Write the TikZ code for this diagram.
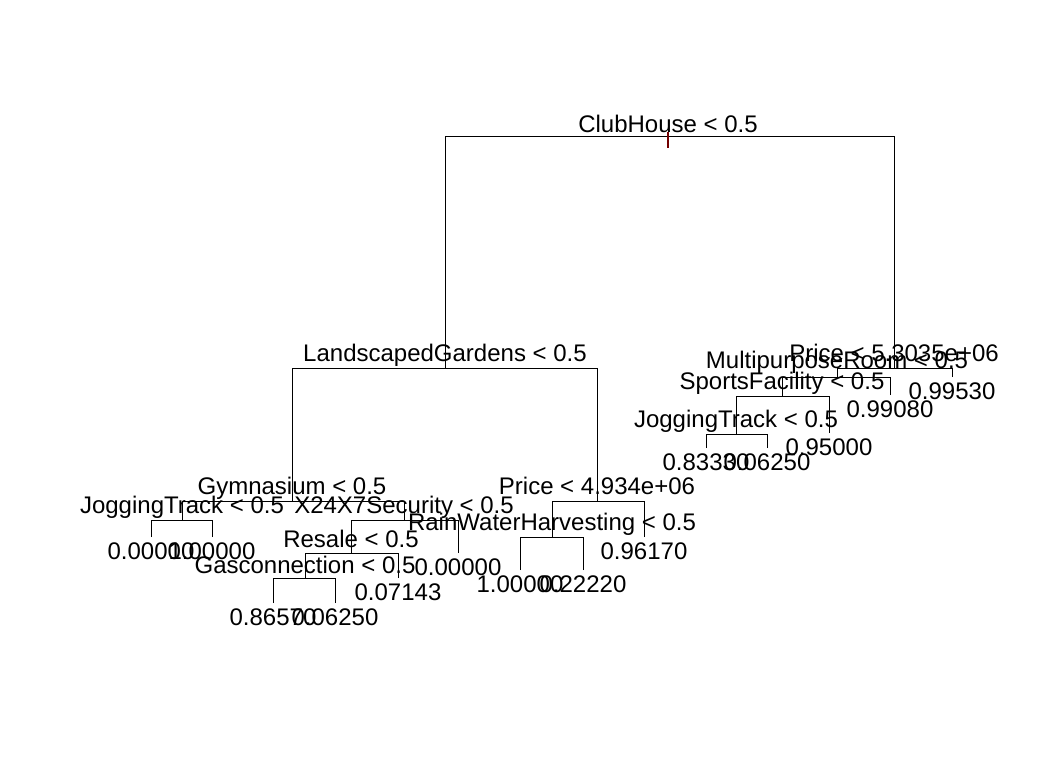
\documentclass[tikz,border=0pt]{standalone}
\usepackage{fontspec}
\setmainfont{Liberation Sans}
\usetikzlibrary{arrows}

\begin{document}
\begin{tikzpicture}[x=1pt, y=-1pt, line width=0.9pt,
  split/.style={anchor=base, yshift=7pt},
  leaf/.style={anchor=base, yshift=-22pt},
  font=\fontsize{24}{28}\selectfont]
\useasboundingbox (0,0) rectangle (1045,768);

% split points
\coordinate (club) at (668,136);
\coordinate (land) at (445,368);
\coordinate (pricehi) at (894,368);
\coordinate (multi) at (837,377);
\coordinate (sports) at (782,396);
\coordinate (jogr) at (736,434);
\coordinate (gym) at (292,501);
\coordinate (jogl) at (182,520);
\coordinate (secu) at (404,520);
\coordinate (resale) at (351,553);
\coordinate (gas) at (305,578);
\coordinate (pricelo) at (597,501);
\coordinate (rain) at (552,537);

% leaves
\coordinate (a1) at (952,377);
\coordinate (a2) at (890,395);
\coordinate (a3) at (829,433);
\coordinate (a4) at (706,448);
\coordinate (a5) at (767,448);
\coordinate (b1) at (151,537);
\coordinate (b2) at (212,537);
\coordinate (b3) at (458,553);
\coordinate (b4) at (398,578);
\coordinate (b5) at (273,603);
\coordinate (b6) at (335,603);
\coordinate (c1) at (644,537);
\coordinate (c2) at (520,570);
\coordinate (c3) at (583,570);

\foreach \c/\p in {land/club, pricehi/club, multi/pricehi, a1/pricehi,
                   sports/multi, a2/multi, jogr/sports, a3/sports,
                   a4/jogr, a5/jogr, gym/land, pricelo/land,
                   jogl/gym, secu/gym, b1/jogl, b2/jogl, resale/secu, b3/secu,
                   gas/resale, b4/resale, b5/gas, b6/gas,
                   rain/pricelo, c1/pricelo, c2/rain, c3/rain}
  \draw (\c) |- (\p);

\draw[color=red!45!black, line width=1.2pt] (668,132) -- (668,148);

\node[split, yshift=-3pt] (tclub) at (club) {ClubHouse < 0.5};
\node[split] (tland) at (land) {LandscapedGardens < 0.5};
\node[split] (tpricehi) at (pricehi) {Price < 5.3035e+06};
\node[split, yshift=2pt] (tmulti) at (multi) {MultipurposeRoom < 0.5};
\node[split] (tsports) at (sports) {SportsFacility < 0.5};
\node[split] (tjogr) at (jogr) {JoggingTrack < 0.5};
\node[split] (tgym) at (gym) {Gymnasium < 0.5};
\node[split] (tjogl) at (jogl) {JoggingTrack < 0.5};
\node[split] (tsecu) at (secu) {X24X7Security < 0.5};
\node[split, yshift=-1pt] (tresale) at (resale) {Resale < 0.5};
\node[split, yshift=-2pt] (tgas) at (gas) {Gasconnection < 0.5};
\node[split] (tpricelo) at (pricelo) {Price < 4.934e+06};
\node[split] (train) at (rain) {RainWaterHarvesting < 0.5};

\foreach \n/\t in {a1/0.99530, a2/0.99080, a3/0.95000, a4/0.83330, a5/0.06250,
                   b1/0.00000, b2/1.00000, b3/0.00000, b4/0.07143, b5/0.86570,
                   b6/0.06250, c1/0.96170, c2/1.00000, c3/0.22220}
  \node[leaf] (t\n) at (\n) {\t};
\end{tikzpicture}
\end{document}
